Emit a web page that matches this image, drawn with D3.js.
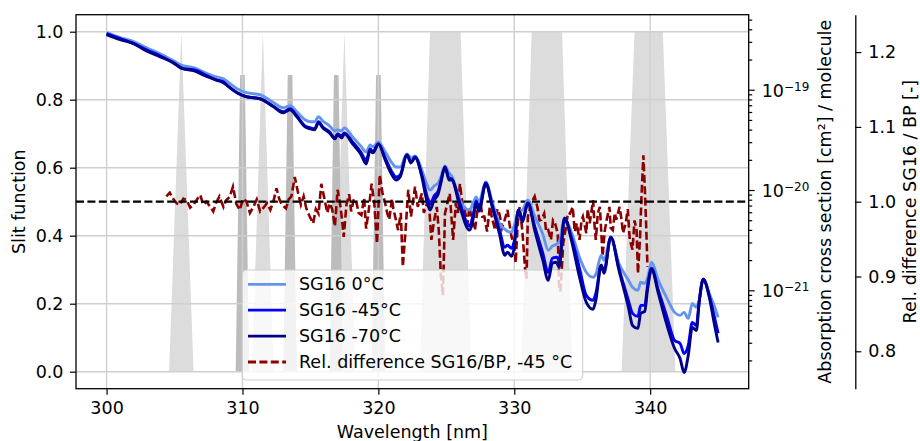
<!DOCTYPE html>
<html>
<head>
<meta charset="utf-8">
<script src="https://cdn.jsdelivr.net/npm/d3@7"></script>
<style>
  body { margin: 0; background: #fff; }
  svg { display: block; font-family: "DejaVu Sans", sans-serif; }
</style>
</head>
<body>
<svg id="chart" width="920" height="441"></svg>
<script>
// wavelength grid of the cross sections [nm]
const wavelength = [
  300.0, 301.0, 302.0, 302.9, 303.9, 304.9, 305.6, 306.4, 307.4, 308.0,
  308.6, 308.9, 309.6, 310.3, 311.3, 312.3, 313.0, 313.5, 314.0, 314.6,
  315.0, 315.3, 315.6, 315.9, 316.4, 316.8, 317.0, 317.3, 317.5, 318.1,
  318.7, 319.1, 319.4, 319.6, 320.0, 320.5, 321.0, 321.3, 321.6, 322.1,
  322.4, 322.7, 323.2, 323.5, 323.8, 324.1, 324.4, 324.6, 324.9, 325.2,
  325.4, 326.0, 326.7, 327.0, 327.2, 327.4, 327.9, 328.4, 328.9, 329.3,
  329.5, 329.8, 330.0, 330.3, 330.6, 331.0, 331.5, 332.1, 332.5, 332.8,
  333.1, 333.3, 333.7, 334.2, 334.8, 335.3, 335.8, 336.0, 336.4, 336.6,
  337.1, 337.7, 338.4, 338.7, 339.1, 339.3, 339.6, 339.8, 340.1, 340.6,
  341.2, 341.8, 342.2, 342.5, 342.8, 343.1, 343.4, 343.6, 343.9, 344.4,
  344.7, 345.0
];

// log10 of the absorption cross section [cm2/molecule]
const logXs0C = [
  -18.43, -18.48, -18.52, -18.58, -18.64, -18.71, -18.76, -18.78, -18.84, -18.87,
  -18.89, -18.92, -18.99, -19.03, -19.05, -19.13, -19.18, -19.16, -19.22, -19.30,
  -19.32, -19.32, -19.27, -19.31, -19.36, -19.41, -19.40, -19.41, -19.38, -19.47,
  -19.56, -19.62, -19.55, -19.57, -19.52, -19.62, -19.73, -19.77, -19.77, -19.64,
  -19.68, -19.66, -19.80, -19.92, -20.00, -19.96, -19.93, -19.87, -19.76, -19.83,
  -19.86, -20.10, -20.20, -20.12, -20.07, -20.12, -19.92, -20.13, -20.33, -20.39,
  -20.41, -20.42, -20.35, -20.22, -20.20, -20.10, -20.26, -20.44, -20.60, -20.56,
  -20.54, -20.52, -20.28, -20.42, -20.67, -20.82, -20.87, -20.84, -20.65, -20.70,
  -20.47, -20.73, -20.90, -20.97, -21.00, -20.92, -20.93, -20.88, -20.72, -20.90,
  -21.07, -21.22, -21.25, -21.22, -21.28, -21.13, -21.17, -21.10, -20.89, -21.05,
  -21.15, -21.27
];
const logXs45C = [
  -18.44, -18.49, -18.54, -18.60, -18.66, -18.73, -18.79, -18.80, -18.86, -18.90,
  -18.92, -18.96, -19.03, -19.07, -19.09, -19.17, -19.22, -19.19, -19.26, -19.36,
  -19.38, -19.39, -19.32, -19.37, -19.42, -19.48, -19.44, -19.46, -19.43, -19.52,
  -19.62, -19.70, -19.59, -19.62, -19.54, -19.68, -19.82, -19.87, -19.85, -19.65,
  -19.72, -19.67, -19.85, -20.02, -20.14, -20.06, -20.01, -19.91, -19.77, -19.88,
  -19.89, -20.13, -20.36, -20.23, -20.11, -20.19, -19.93, -20.16, -20.39, -20.57,
  -20.55, -20.58, -20.51, -20.20, -20.29, -20.13, -20.36, -20.63, -20.82, -20.68,
  -20.67, -20.69, -20.28, -20.47, -20.78, -21.05, -21.10, -21.03, -20.75, -20.81,
  -20.47, -20.78, -21.10, -21.23, -21.26, -21.15, -21.15, -20.96, -20.78, -21.00,
  -21.25, -21.50, -21.53, -21.63, -21.55, -21.32, -21.35, -21.12, -20.89, -21.08,
  -21.25, -21.43
];
const logXs70C = [
  -18.45, -18.50, -18.54, -18.61, -18.67, -18.73, -18.79, -18.81, -18.87, -18.90,
  -18.93, -18.96, -19.03, -19.07, -19.09, -19.17, -19.23, -19.20, -19.27, -19.37,
  -19.39, -19.40, -19.33, -19.38, -19.43, -19.49, -19.45, -19.48, -19.44, -19.54,
  -19.64, -19.74, -19.60, -19.63, -19.54, -19.70, -19.85, -19.90, -19.87, -19.65,
  -19.73, -19.68, -19.87, -20.07, -20.20, -20.10, -20.04, -19.93, -19.77, -19.90,
  -19.90, -20.17, -20.40, -20.27, -20.13, -20.21, -19.94, -20.18, -20.43, -20.65,
  -20.62, -20.66, -20.57, -20.20, -20.32, -20.13, -20.40, -20.70, -20.90, -20.73,
  -20.72, -20.77, -20.28, -20.50, -20.87, -21.12, -21.19, -21.10, -20.75, -20.83,
  -20.47, -20.80, -21.17, -21.35, -21.38, -21.23, -21.21, -21.00, -20.79, -21.03,
  -21.33, -21.58, -21.68, -21.82, -21.65, -21.37, -21.40, -21.13, -20.89, -21.10,
  -21.32, -21.52
];

// relative difference SG16/BP at -45 degC: [wavelength, ratio]
const relDiff = [
  [304.4,1.007],[304.65,1.012],[304.9,1.004],[305.15,0.998],[305.4,0.996],[305.65,1.004],[305.9,1.002],[306.15,0.992],[306.4,0.996],[306.65,1.003],
  [306.9,1.009],[307.1,0.996],[307.35,1.000],[307.6,0.994],[307.85,0.987],[308.05,0.998],[308.3,1.007],[308.6,0.993],[308.8,1.002],[309.05,1.006],
  [309.3,1.020],[309.55,0.997],[309.8,0.989],[310.05,1.004],[310.3,1.000],[310.55,0.985],[310.8,0.993],[311.05,1.003],[311.3,0.987],[311.55,0.992],
  [311.8,0.998],[312.05,0.989],[312.3,1.002],[312.5,1.018],[312.7,1.004],[312.9,0.996],[313.2,0.991],[313.4,1.003],[313.6,1.007],[313.85,1.033],
  [314.1,1.011],[314.3,0.996],[314.5,1.007],[314.7,0.991],[314.95,0.980],[315.2,0.971],[315.4,0.990],[315.6,0.984],[315.8,1.024],[316.05,1.002],
  [316.25,0.985],[316.4,0.998],[316.6,0.990],[316.8,0.967],[317.0,1.016],[317.2,0.995],[317.3,0.980],[317.45,0.953],[317.65,0.996],[317.85,1.010],
  [318.0,0.987],[318.2,1.004],[318.4,0.998],[318.55,0.985],[318.75,0.982],[318.95,1.005],[319.1,0.964],[319.3,0.990],[319.5,1.024],[319.7,0.998],
  [319.9,0.944],[320.1,1.036],[320.3,1.012],[320.5,0.998],[320.65,0.985],[320.8,0.976],[321.0,1.004],[321.1,0.991],[321.3,0.975],[321.45,0.962],
  [321.65,0.985],[321.8,0.913],[322.0,0.962],[322.2,1.016],[322.4,0.980],[322.7,1.020],[322.9,0.993],[323.2,1.011],[323.35,0.985],[323.5,0.993],
  [323.7,1.004],[323.9,0.949],[324.1,0.975],[324.3,0.993],[324.45,0.960],[324.6,0.900],[324.75,0.875],[324.9,0.984],[325.1,1.000],[325.25,1.011],
  [325.5,0.949],[325.7,0.998],[325.85,0.985],[326.0,1.024],[326.2,0.995],[326.35,0.989],[326.55,0.970],[326.7,0.993],[326.9,0.975],[327.1,0.962],
  [327.3,0.990],[327.5,1.002],[327.65,0.980],[327.8,0.980],[328.0,0.960],[328.2,0.993],[328.4,0.975],[328.6,0.962],[328.75,0.990],[328.9,0.984],
  [329.1,0.965],[329.3,0.976],[329.5,0.989],[329.65,0.970],[329.8,0.953],[330.0,0.940],[330.1,0.918],[330.25,0.970],[330.4,0.993],[330.6,0.960],
  [330.8,0.909],[330.9,0.897],[331.0,0.980],[331.25,0.998],[331.5,1.007],[331.7,0.993],[331.85,0.975],[332.0,0.976],[332.2,0.984],[332.35,0.960],
  [332.5,0.962],[332.7,0.949],[332.85,0.975],[333.0,0.971],[333.2,0.958],[333.3,0.887],[333.4,0.880],[333.6,0.944],[333.8,0.966],[333.95,0.985],
  [334.1,0.984],[334.3,0.993],[334.45,0.960],[334.6,0.971],[334.8,0.949],[334.95,0.975],[335.05,0.980],[335.3,0.958],[335.4,0.990],[335.55,0.971],
  [335.8,1.002],[335.9,0.970],[336.0,0.949],[336.15,0.985],[336.3,0.993],[336.5,0.927],[336.65,0.960],[336.8,0.976],[337.0,0.993],[337.1,0.965],
  [337.25,0.962],[337.4,0.985],[337.5,0.976],[337.75,0.993],[337.9,0.975],[338.0,0.958],[338.2,0.971],[338.35,0.990],[338.5,0.949],[338.7,0.936],
  [338.85,0.975],[339.0,0.962],[339.1,0.904],[339.25,0.950],[339.35,1.002],[339.5,1.062],[339.6,1.020],[339.7,0.971],[339.8,0.913]
];

// instrument slit functions, outline points [wavelength, response]
const slitWide = [
  [[304.6, 0], [305.5, 1], [306.4, 0]],
  [[310.7, 0], [311.5, 1], [312.3, 0]],
  [[316.7, 0], [317.5, 1], [318.3, 0]],
  [[323.05, 0], [323.8, 1], [326.05, 1], [326.85, 0]],
  [[330.5, 0], [331.28, 1], [333.52, 1], [334.3, 0]],
  [[337.9, 0], [338.85, 1], [340.93, 1], [341.86, 0]]
];
const slitNarrow = [
  [[309.5, 0], [309.83, 0.873], [310.17, 0.873], [310.5, 0]],
  [[313.0, 0], [313.33, 0.873], [313.67, 0.873], [314.0, 0]],
  [[316.4, 0], [316.73, 0.873], [317.07, 0.873], [317.4, 0]],
  [[319.5, 0], [319.83, 0.873], [320.17, 0.873], [320.5, 0]]
];

const wavelengthTicks = [300, 310, 320, 330, 340];
const slitTicks = [0, 0.2, 0.4, 0.6, 0.8, 1.0];
const xsDecades = [-21, -20, -19];
const relTicks = [0.8, 0.9, 1.0, 1.1, 1.2];
const relLimits = [0.75, 1.25];
const xsLimits = [-21.981, -18.252];

const seriesNames = ["SG16 0°C", "SG16 -45°C", "SG16 -70°C", "Rel. difference SG16/BP, -45 °C"];
const seriesColors = ["#6495ed", "#0000ff", "#00008b", "#8b0000"];

var plot = { left: 76, right: 748.7, top: 14.7, bottom: 388.7 };
var font = "DejaVu Sans";
var fontSize = 17.5;
var dashes = "8,3.4";

function padded(extent) {
  var pad = (extent[1] - extent[0]) * 0.05;
  return [extent[0] - pad, extent[1] + pad];
}

var x = d3.scaleLinear()
  .domain(padded(d3.extent(wavelength)))
  .range([plot.left, plot.right]);
var ySlit = d3.scaleLinear()
  .domain(padded([0, 1]))
  .range([plot.bottom, plot.top]);
var yXs = d3.scaleLog()
  .domain(xsLimits.map(function(e) { return Math.pow(10, e); }))
  .range([plot.bottom, plot.top]);
var yRel = d3.scaleLinear()
  .domain(relLimits)
  .range([plot.bottom, plot.top]);

var svg = d3.select("svg#chart");

// slit functions
var slitLine = d3.line()
  .x(function(d) { return x(d[0]); })
  .y(function(d) { return ySlit(d[1]); });
var fills = svg.append("g");
fills.selectAll("path.wide")
  .data(slitWide)
  .enter()
  .append("path")
  .attr("class", "wide")
  .attr("d", function(d) { return slitLine(d) + "Z"; })
  .attr("fill", "#dcdcdc");
fills.selectAll("path.narrow")
  .data(slitNarrow)
  .enter()
  .append("path")
  .attr("class", "narrow")
  .attr("d", function(d) { return slitLine(d) + "Z"; })
  .attr("fill", "#bcbcbc");

// grid
var grid = svg.append("g")
  .attr("stroke", "#cfcfcf")
  .attr("stroke-width", 1.4);
grid.selectAll("line.gx")
  .data(wavelengthTicks)
  .enter()
  .append("line")
  .attr("x1", x).attr("x2", x)
  .attr("y1", plot.top).attr("y2", plot.bottom);
grid.selectAll("line.gy")
  .data(slitTicks)
  .enter()
  .append("line")
  .attr("x1", plot.left).attr("x2", plot.right)
  .attr("y1", ySlit).attr("y2", ySlit);

// relative difference
var relLine = d3.line()
  .x(function(d) { return x(d[0]); })
  .y(function(d) { return yRel(d[1]); });
svg.append("path")
  .attr("d", relLine(relDiff))
  .attr("fill", "none")
  .attr("stroke", seriesColors[3])
  .attr("stroke-width", 2.6)
  .attr("stroke-dasharray", dashes);

svg.append("line")
  .attr("x1", plot.left).attr("x2", plot.right)
  .attr("y1", yRel(1)).attr("y2", yRel(1))
  .attr("stroke", "#000")
  .attr("stroke-width", 2.2)
  .attr("stroke-dasharray", dashes);

// legend (semi transparent, under the cross sections)
var legend = svg.append("g");
legend.append("rect")
  .attr("x", 242.3).attr("y", 270)
  .attr("width", 340.4).attr("height", 110)
  .attr("rx", 4)
  .attr("fill", "#fff")
  .attr("fill-opacity", 0.8)
  .attr("stroke", "#cccccc")
  .attr("stroke-width", 1);
var rows = legend.selectAll("g.row")
  .data(seriesNames)
  .enter()
  .append("g")
  .attr("class", "row")
  .attr("transform", function(d, i) { return "translate(0," + (284.3 + i * 25.9) + ")"; });
rows.append("line")
  .attr("x1", 248).attr("x2", 286)
  .attr("stroke", function(d, i) { return seriesColors[i]; })
  .attr("stroke-width", 2.8)
  .attr("stroke-dasharray", function(d, i) { return i == 3 ? dashes : null; });
rows.append("text")
  .attr("x", 299)
  .attr("dy", "0.35em")
  .attr("font-family", font)
  .attr("font-size", fontSize)
  .attr("fill", "#000")
  .text(function(d) { return d; });

// cross sections
var xsLine = d3.line()
  .curve(d3.curveMonotoneX)
  .x(function(d, i) { return x(wavelength[i]); })
  .y(function(d) { return yXs(Math.pow(10, d)); });
[logXs0C, logXs45C, logXs70C].forEach(function(series, i) {
  svg.append("path")
    .attr("d", xsLine(series))
    .attr("fill", "none")
    .attr("stroke", seriesColors[i])
    .attr("stroke-width", 2.9)
    .attr("stroke-linejoin", "round");
});

// axes
function style_axis(g) {
  g.attr("font-family", font).attr("font-size", fontSize);
  g.selectAll(".tick line").attr("stroke", "#000").attr("stroke-width", 1.2);
  g.selectAll(".tick text").attr("fill", "#000");
}

svg.append("g")
  .attr("transform", "translate(0," + plot.bottom + ")")
  .call(d3.axisBottom(x).tickValues(wavelengthTicks).tickSize(6).tickPadding(7).tickFormat(d3.format("d")))
  .call(function(g) { g.select(".domain").remove(); })
  .call(style_axis);

svg.append("g")
  .attr("transform", "translate(" + plot.left + ",0)")
  .call(d3.axisLeft(ySlit).tickValues(slitTicks).tickSize(6).tickPadding(6.5).tickFormat(d3.format(".1f")))
  .call(function(g) { g.select(".domain").remove(); })
  .call(style_axis);

// log axis: minor then major ticks
var minor = [];
for (var e = -23; e <= -19; e++) {
  for (var k = 2; k <= 9; k++) {
    var v = k * Math.pow(10, e);
    if (v > yXs.domain()[0] && v < yXs.domain()[1]) minor.push(v);
  }
}
svg.append("g")
  .attr("transform", "translate(" + plot.right + ",0)")
  .call(d3.axisRight(yXs).tickValues(minor).tickSize(3.5).tickFormat(""))
  .call(function(g) { g.select(".domain").remove(); })
  .call(style_axis);
var major = xsDecades.map(function(e) { return Math.pow(10, e); });
var xsAxis = svg.append("g")
  .attr("transform", "translate(" + plot.right + ",0)")
  .call(d3.axisRight(yXs).tickValues(major).tickSize(6).tickFormat(""))
  .call(function(g) { g.select(".domain").remove(); })
  .call(style_axis);
xsDecades.forEach(function(e) {
  var t = xsAxis.append("text")
    .attr("x", 13)
    .attr("y", yXs(Math.pow(10, e)))
    .attr("dy", "0.4em")
    .attr("fill", "#000");
  t.append("tspan").text("10");
  t.append("tspan")
    .attr("dy", "-0.5em")
    .attr("font-size", 12)
    .text("\u2212" + (-e));
});

// outer axis for the relative difference
svg.append("g")
  .attr("transform", "translate(855.3,0)")
  .call(d3.axisRight(yRel).tickValues(relTicks).tickSize(6).tickPadding(7).tickSizeOuter(0).tickFormat(d3.format(".1f")))
  .call(function(g) { g.select(".domain").attr("stroke", "#000").attr("stroke-width", 1.3); })
  .call(style_axis);

// frame
svg.append("rect")
  .attr("x", plot.left).attr("y", plot.top)
  .attr("width", plot.right - plot.left)
  .attr("height", plot.bottom - plot.top)
  .attr("fill", "none")
  .attr("stroke", "#000")
  .attr("stroke-width", 1.3);

// axis titles
var midY = (plot.top + plot.bottom) / 2;
function title(xPos, label) {
  svg.append("text")
    .attr("transform", "translate(" + xPos + "," + midY + ") rotate(-90)")
    .attr("text-anchor", "middle")
    .attr("font-family", font)
    .attr("font-size", fontSize)
    .attr("fill", "#000")
    .text(label);
}
svg.append("text")
  .attr("x", (plot.left + plot.right) / 2)
  .attr("y", 437.8)
  .attr("text-anchor", "middle")
  .attr("font-family", font)
  .attr("font-size", fontSize)
  .attr("fill", "#000")
  .text("Wavelength [nm]");
title(25, "Slit function");
title(831, "Absorption cross section [cm\u00b2] / molecule");
title(916, "Rel. difference SG16 / BP [-]");
</script>
</body>
</html>
